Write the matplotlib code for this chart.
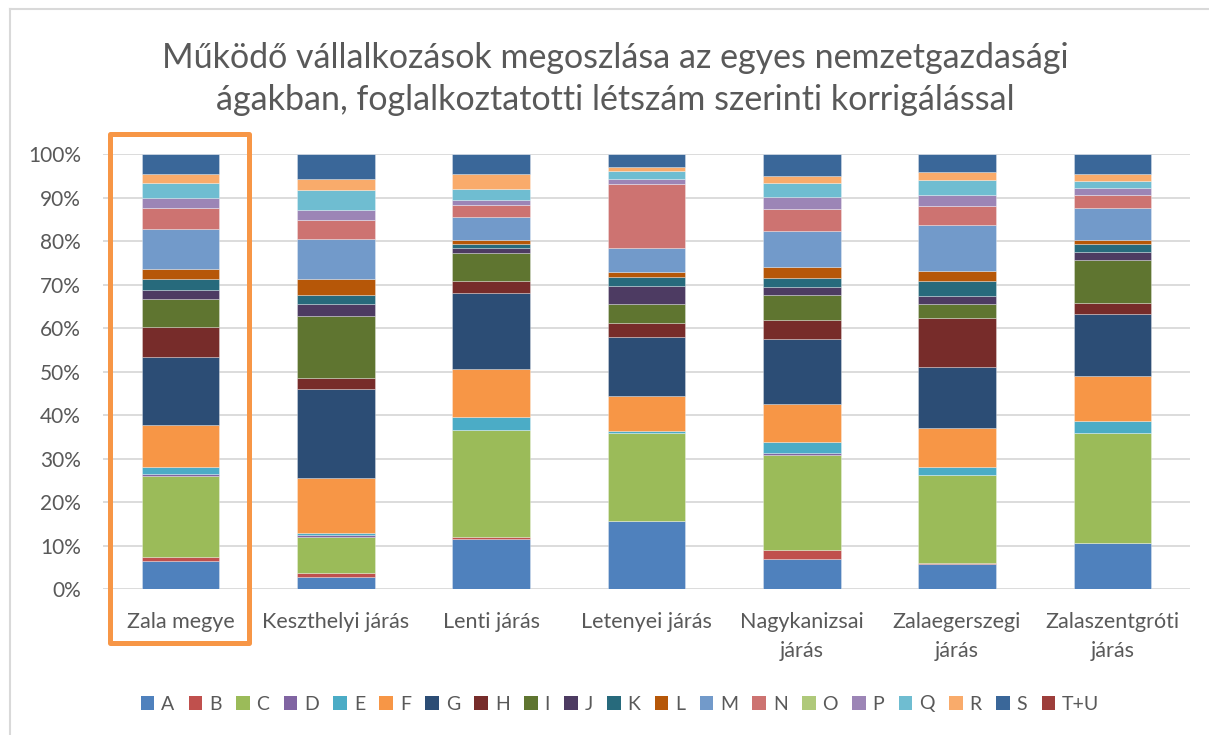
import matplotlib
matplotlib.use("Agg")
import matplotlib.pyplot as plt
from matplotlib.patches import Patch, Rectangle
from matplotlib.lines import Line2D
from matplotlib.ticker import MultipleLocator, FuncFormatter
import numpy as np

plt.rcParams['font.family'] = ['Lato', 'DejaVu Sans']

title = "Működő vállalkozások megoszlása az egyes nemzetgazdasági\nágakban, foglalkoztatotti létszám szerinti korrigálással"

categories = ["Zala megye", "Keszthelyi járás", "Lenti járás", "Letenyei járás",
              "Nagykanizsai\njárás", "Zalaegerszegi\njárás", "Zalaszentgróti\njárás"]

series_names = ["A", "B", "C", "D", "E", "F", "G", "H", "I", "J", "K", "L",
                "M", "N", "O", "P", "Q", "R", "S", "T+U"]

A = [6.4, 2.9, 11.6, 15.8, 6.9, 5.7, 10.6]
B = [0.9, 0.8, 0.4, 0.0, 2.1, 0.3, 0.0]
C = [18.8, 8.3, 24.7, 20.2, 21.8, 20.3, 25.4]
D = [0.3, 0.5, 0.0, 0.0, 0.6, 0.0, 0.0]
E = [1.7, 0.5, 2.9, 0.3, 2.5, 1.7, 2.7]
F = [9.7, 12.7, 11.0, 8.0, 8.8, 9.0, 10.2]
G = [15.6, 20.4, 17.5, 13.6, 14.8, 14.0, 14.3]
H = [6.7, 2.7, 2.7, 3.2, 4.4, 11.3, 2.5]
I = [6.5, 14.2, 6.5, 4.4, 5.7, 3.2, 10.0]
J = [2.0, 2.7, 1.1, 4.1, 1.9, 1.8, 1.9]
K = [2.5, 2.1, 1.1, 2.1, 2.0, 3.4, 1.8]
L = [2.5, 3.8, 0.9, 1.1, 2.7, 2.3, 0.9]
M = [9.0, 9.0, 5.3, 5.5, 8.2, 10.6, 7.4]
N = [4.8, 4.4, 2.6, 14.9, 5.0, 4.4, 2.8]
O = [0.0, 0.0, 0.0, 0.0, 0.0, 0.0, 0.0]
P = [2.5, 2.5, 1.2, 1.1, 2.8, 2.5, 1.6]
Q = [3.4, 4.6, 2.6, 1.8, 3.3, 3.5, 1.7]
R = [1.9, 2.5, 3.4, 0.8, 1.5, 1.8, 1.5]
S = [4.7, 5.7, 4.6, 3.1, 5.1, 4.1, 4.7]
TU = [0.0, 0.0, 0.0, 0.0, 0.0, 0.0, 0.0]

series_values = [A, B, C, D, E, F, G, H, I, J, K, L, M, N, O, P, Q, R, S, TU]

colors = ['#4F81BD', '#C0504D', '#9BBB59', '#8064A2', '#4BACC6', '#F79646',
          '#2C4D75', '#772C2A', '#5F7530', '#4D3B62', '#276A7C', '#B65708',
          '#729ACA', '#CD7371', '#AFC97A', '#9C85B6', '#6FBDD1', '#F9AB6B',
          '#3A6799', '#9D3E3B']

W, H_ = 1209, 735
fig = plt.figure(figsize=(W / 100, H_ / 100), dpi=100)
left, right, top, bottom = 103, 1190, 154, 589.3
ax = fig.add_axes([left / W, 1 - bottom / H_, (right - left) / W, (bottom - top) / H_])

data = np.array(series_values, dtype=float)
totals = data.sum(axis=0)
shares = data / totals * 100

x = np.arange(len(categories))
base = np.zeros(len(categories))
for name, vals, col in zip(series_names, shares, colors):
    ax.bar(x, vals, width=0.5, bottom=base, color=col,
           edgecolor=(1, 1, 1, 0.35), linewidth=0.6, zorder=3)
    base += vals

ax.set_xlim(-0.5, len(categories) - 0.5)
ax.set_ylim(0, 100)
ax.yaxis.set_major_locator(MultipleLocator(10))
ax.yaxis.set_major_formatter(FuncFormatter(lambda v, p: f"{int(round(v))}%"))
ax.grid(axis='y', color='#D9D9D9', linewidth=1.3, zorder=0)
for s in ax.spines.values():
    s.set_visible(False)
ax.tick_params(axis='both', length=0, colors='#595959')
ax.tick_params(axis='y', labelsize=15, pad=16)
ax.tick_params(axis='x', labelsize=15.5, pad=16)
ax.set_xticks(x)
ax.set_xticklabels(categories, linespacing=1.6)

fig.text(0.509, 1 - 79 / H_, title, ha='center', va='center', fontsize=24.5,
         color='#595959', linespacing=1.4)

handles = [Patch(facecolor=c, edgecolor='none') for c in colors]
leg = fig.legend(handles, series_names, loc='center', ncol=20,
                 bbox_to_anchor=(620 / W, 1 - 704 / H_), frameon=False,
                 fontsize=14, handlelength=0.7, handleheight=0.7,
                 handletextpad=0.35, columnspacing=0.74, labelcolor='#595959')

# highlight rectangle around the first category
fig.add_artist(Rectangle((110 / W, 1 - 643 / H_), (248.5 - 110) / W, (643 - 134) / H_,
                         transform=fig.transFigure, fill=False, edgecolor='#F79646',
                         linewidth=3.6, joinstyle='round', zorder=10))

# chart area border (left and top visible)
fig.add_artist(Line2D([10 / W, 10 / W], [0, 1 - 9 / H_], transform=fig.transFigure,
                      color='#D9D9D9', linewidth=1.5))
fig.add_artist(Line2D([10 / W, 1], [1 - 9 / H_, 1 - 9 / H_], transform=fig.transFigure,
                      color='#D9D9D9', linewidth=1.5))

fig.savefig("out.png", dpi=100, facecolor='white')
